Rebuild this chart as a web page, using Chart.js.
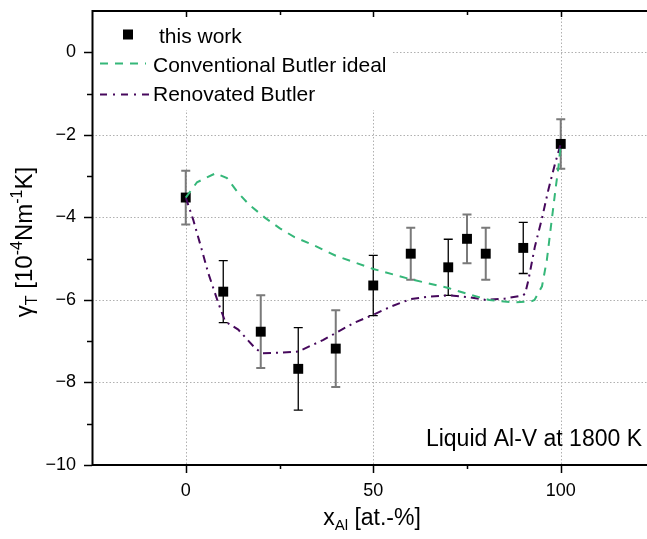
<!DOCTYPE html>
<html>
<head>
<meta charset="utf-8">
<script src="https://cdn.jsdelivr.net/npm/chart.js@4.4.1/dist/chart.umd.min.js"></script>
<style>
  body { margin: 0; background: #fff; }
  canvas { display: block; }
</style>
</head>
<body>
<canvas id="chart" width="647" height="539"></canvas>
<script>
// ---- measured points (this work) ----
const xWork = [0, 10, 20, 30, 40, 50, 60, 70, 75, 80, 90, 100];
const yWork = [-3.52, -5.80, -6.77, -7.67, -7.18, -5.65, -4.88, -5.21, -4.52, -4.88, -4.74, -2.22];
const errWork = [0.65, 0.75, 0.88, 1.0, 0.93, 0.73, 0.63, 0.68, 0.59, 0.63, 0.62, 0.6];
const errGray = [true, false, true, false, true, false, true, false, true, true, false, true];

// ---- Conventional Butler ideal ----
const xConv = [0, 3, 8, 11, 14, 17, 21, 25, 29, 34, 37, 40, 50, 60, 70, 76, 81, 87, 92, 93, 95, 96.3, 97.6, 98.7, 99.4, 100];
const yConv = [-3.52, -3.15, -2.93, -3.05, -3.41, -3.70, -4.00, -4.26, -4.48, -4.67, -4.80, -4.93, -5.25, -5.50, -5.71, -5.88, -6.00, -6.06, -6.04, -6.00, -5.67, -5.03, -4.06, -3.25, -2.77, -2.22];

// ---- Renovated Butler ----
const xRen = [0, 2, 4.3, 6, 8.7, 10.5, 14, 18.5, 20.4, 25, 30, 36.7, 40, 45, 50, 55, 60, 65, 70, 75, 80, 85, 89.9, 90.5, 91.4, 93.1, 94.9, 96.7, 98.5, 100];
const yRen = [-3.52, -4.06, -4.79, -5.35, -6.08, -6.52, -6.72, -7.17, -7.29, -7.28, -7.25, -6.97, -6.80, -6.55, -6.36, -6.15, -5.98, -5.92, -5.89, -5.93, -6.00, -5.97, -5.89, -5.85, -5.51, -4.71, -4.06, -3.33, -2.69, -2.22];

const FONT = "'Liberation Sans', Arial, sans-serif";
const GREEN = "#35b779";
const PURPLE = "#46085c";

const pts = (xs, ys) => xs.map((x, i) => ({ x: x, y: ys[i] }));

// draw text with sub/superscripts: parts = [text, size, dy]
function richWidth(ctx, parts) {
  let w = 0;
  parts.forEach(p => { ctx.font = `${p[1]}px ${FONT}`; w += ctx.measureText(p[0]).width; });
  return w;
}
function drawRich(ctx, parts, x, y) {
  parts.forEach(p => {
    ctx.font = `${p[1]}px ${FONT}`;
    ctx.fillText(p[0], x, y + p[2]);
    x += ctx.measureText(p[0]).width;
  });
}

const decor = {
  id: "decor",
  beforeDatasetsDraw(chart) {
    const { ctx, chartArea: a, scales: { x, y } } = chart;
    ctx.save();
    // dotted grid at major ticks
    ctx.strokeStyle = "#b0b0b0";
    ctx.lineWidth = 1;
    ctx.setLineDash([1.5, 2]);
    x.ticks.forEach(t => {
      if (t.value % 50 !== 0 || t.value < 0) return;
      const px = Math.round(x.getPixelForValue(t.value)) + 0.5;
      ctx.beginPath(); ctx.moveTo(px, a.top); ctx.lineTo(px, a.bottom); ctx.stroke();
    });
    y.ticks.forEach(t => {
      if (t.value % 2 !== 0 || t.value <= -10) return;
      const py = Math.round(y.getPixelForValue(t.value)) + 0.5;
      ctx.beginPath(); ctx.moveTo(a.left, py); ctx.lineTo(a.right, py); ctx.stroke();
    });
    ctx.setLineDash([]);

    // legend background
    ctx.fillStyle = "#fff";
    ctx.fillRect(a.left + 1, a.top + 1, 300, 98);

    // error bars
    xWork.forEach((xv, i) => {
      const px = x.getPixelForValue(xv);
      const top = y.getPixelForValue(yWork[i] + errWork[i]);
      const bot = y.getPixelForValue(yWork[i] - errWork[i]);
      ctx.strokeStyle = errGray[i] ? "#7a7a7a" : "#000";
      ctx.lineWidth = errGray[i] ? 2 : 1.3;
      ctx.beginPath();
      ctx.moveTo(px, top); ctx.lineTo(px, bot);
      ctx.moveTo(px - 4.5, top); ctx.lineTo(px + 4.5, top);
      ctx.moveTo(px - 4.5, bot); ctx.lineTo(px + 4.5, bot);
      ctx.stroke();
    });
    ctx.restore();
  },
  afterDraw(chart) {
    const { ctx, chartArea: a, scales: { x, y } } = chart;
    ctx.save();
    ctx.strokeStyle = "#000";

    // ticks
    ctx.lineWidth = 1.5;
    x.ticks.forEach(t => {
      if (t.value < 0) return;
      const px = Math.round(x.getPixelForValue(t.value)) + 0.5;
      const major = t.value % 50 === 0;
      ctx.beginPath();
      ctx.moveTo(px, a.bottom); ctx.lineTo(px, a.bottom + (major ? 8 : 4));
      ctx.moveTo(px, a.top); ctx.lineTo(px, a.top + (major ? 6 : 4));
      ctx.stroke();
    });
    y.ticks.forEach(t => {
      if (t.value > 0) return;
      const py = Math.round(y.getPixelForValue(t.value)) + 0.5;
      const major = t.value % 2 === 0;
      ctx.beginPath();
      ctx.moveTo(a.left, py); ctx.lineTo(a.left - (major ? 8 : 5), py);
      ctx.stroke();
    });

    // frame (left, top, bottom)
    ctx.lineWidth = 2;
    ctx.beginPath();
    ctx.moveTo(a.right, a.top); ctx.lineTo(a.left + 0.5, a.top);
    ctx.lineTo(a.left + 0.5, a.bottom); ctx.lineTo(a.right, a.bottom);
    ctx.stroke();

    // legend
    ctx.fillStyle = "#000";
    ctx.fillRect(123, 29.5, 10, 10);
    ctx.lineWidth = 2;
    ctx.strokeStyle = GREEN;
    ctx.setLineDash([8, 7]);
    ctx.beginPath(); ctx.moveTo(100, 63.5); ctx.lineTo(146, 63.5); ctx.stroke();
    ctx.strokeStyle = PURPLE;
    ctx.setLineDash([7, 6, 2, 6]);
    ctx.beginPath(); ctx.moveTo(100, 94.5); ctx.lineTo(154, 94.5); ctx.stroke();
    ctx.setLineDash([]);
    ctx.font = `21px ${FONT}`;
    ctx.textBaseline = "alphabetic";
    ctx.textAlign = "left";
    ctx.fillText("this work", 159, 43);
    ctx.fillText("Conventional Butler ideal", 153, 72);
    ctx.fillText("Renovated Butler", 153, 101);

    // annotation
    ctx.font = `23px ${FONT}`;
    ctx.textAlign = "right";
    ctx.fillText("Liquid Al-V at 1800 K", 642, 446);

    // axis titles
    ctx.textAlign = "left";
    const xParts = [["x", 23, 0], ["Al", 15, 5], [" [at.-%]", 23, 0]];
    const xw = richWidth(ctx, xParts);
    drawRich(ctx, xParts, 372 - xw / 2, 525);

    const yParts = [["\u03b3", 24, 0], ["T", 16, 5], [" [10", 24, 0], ["-4", 16, -10], ["Nm", 24, 0], ["-1", 16, -10], ["K]", 24, 0]];
    const yw = richWidth(ctx, yParts);
    ctx.translate(32, 242);
    ctx.rotate(-Math.PI / 2);
    drawRich(ctx, yParts, -yw / 2, 0);
    ctx.restore();
  }
};

new Chart(document.getElementById("chart"), {
  type: "scatter",
  data: {
    datasets: [
      {
        label: "Conventional Butler ideal",
        data: pts(xConv, yConv),
        showLine: true,
        borderColor: GREEN,
        borderWidth: 2,
        borderDash: [8, 7],
        pointRadius: 0,
        tension: 0,
        order: 1
      },
      {
        label: "Renovated Butler",
        data: pts(xRen, yRen),
        showLine: true,
        borderColor: PURPLE,
        borderWidth: 2,
        borderDash: [8, 5, 2, 5],
        pointRadius: 0,
        tension: 0,
        order: 2
      },
      {
        label: "this work",
        data: pts(xWork, yWork),
        pointStyle: "rect",
        pointRadius: 7,
        backgroundColor: "#000",
        borderWidth: 0,
        order: 3
      }
    ]
  },
  options: {
    responsive: false,
    animation: false,
    devicePixelRatio: 1,
    layout: { autoPadding: false, padding: { top: 11, left: 0, right: 0, bottom: 0 } },
    plugins: { legend: { display: false }, tooltip: { enabled: false } },
    scales: {
      x: {
        type: "linear",
        min: -25,
        max: 123,
        grid: { display: false, drawTicks: false },
        border: { display: false },
        afterFit: s => { s.height = 74; s.paddingLeft = 0; s.paddingRight = 0; },
        ticks: {
          stepSize: 25,
          includeBounds: false,
          autoSkip: false,
          maxRotation: 0,
          padding: 15,
          color: "#000",
          font: { family: FONT, size: 18 },
          callback: v => (v % 50 === 0 && v >= 0 ? String(v) : "")
        }
      },
      y: {
        type: "linear",
        min: -10,
        max: 1,
        grid: { display: false, drawTicks: false },
        border: { display: false },
        afterFit: s => { s.width = 92; s.paddingTop = 0; s.paddingBottom = 0; },
        ticks: {
          stepSize: 1,
          includeBounds: false,
          autoSkip: false,
          padding: 16,
          color: "#000",
          font: { family: FONT, size: 18 },
          callback: v => (v % 2 === 0 ? String(v).replace("-", "\u2212") : "")
        }
      }
    }
  },
  plugins: [decor]
});
</script>
</body>
</html>
